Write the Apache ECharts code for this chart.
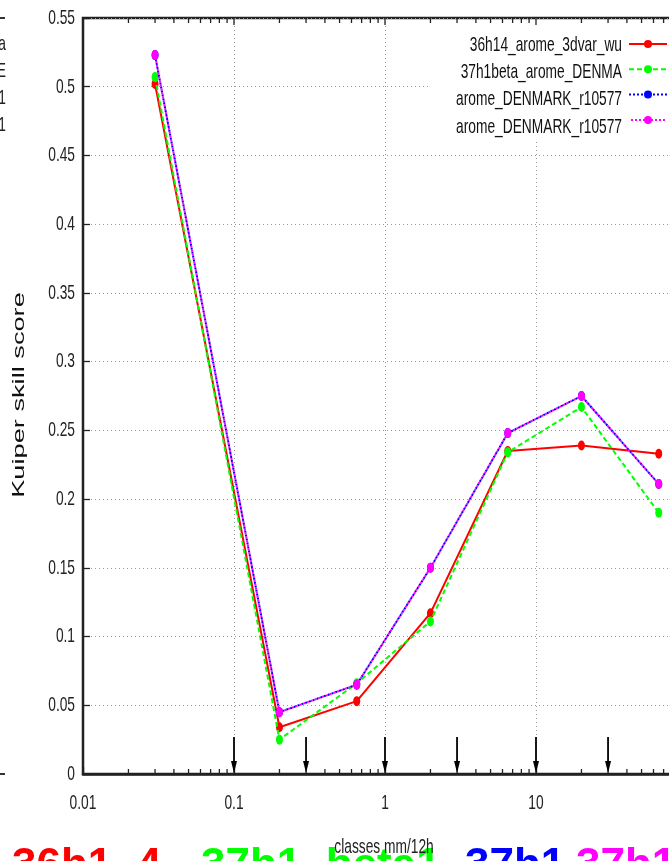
<!DOCTYPE html>
<html><head><meta charset="utf-8">
<script src="https://cdn.jsdelivr.net/npm/echarts@6/dist/echarts.min.js"></script>
<style>html,body{margin:0;padding:0;background:#fff}#c{width:669px;height:861px}</style>
</head><body><div id="c"></div>
<script>
// ---- data ----
const classX = [0.03, 0.2, 0.65, 2, 6.5, 20, 65];
const seriesNames = ['36h14_arome_3dvar_wu', '37h1beta_arome_DENMA', 'arome_DENMARK_r10577', 'arome_DENMARK_r10577\u200b'];
const legendLabels = ['36h14_arome_3dvar_wu', '37h1beta_arome_DENMA', 'arome_DENMARK_r10577', 'arome_DENMARK_r10577'];
const redValues = [0.502, 0.034, 0.053, 0.117, 0.235, 0.239, 0.233];
const greenValues = [0.507, 0.025, 0.066, 0.111, 0.234, 0.267, 0.190];
const blueValues = [0.523, 0.045, 0.065, 0.150, 0.248, 0.275, 0.211];
const magentaValues = [0.523, 0.045, 0.065, 0.150, 0.248, 0.275, 0.211];
const arrowX = [0.1, 0.3, 1, 3, 10, 30];
const xTickValues = [0.01, 0.1, 1, 10, 100];
const xTickLabels = ['0.01', '0.1', '1', '10', '100'];
const yTickValues = [0, 0.05, 0.1, 0.15, 0.2, 0.25, 0.3, 0.35, 0.4, 0.45, 0.5, 0.55];
const yTickLabels = ['0', '0.05', '0.1', '0.15', '0.2', '0.25', '0.3', '0.35', '0.4', '0.45', '0.5', '0.55'];
const minorTicksX = [0.02,0.03,0.04,0.05,0.06,0.07,0.08,0.09,
                     0.2,0.3,0.4,0.5,0.6,0.7,0.8,0.9,
                     2,3,4,5,6,7,8,9,
                     20,30,40,50,60,70,80,90];
const bottomTitles = [
  {text: '36h1_4', color: '#ff0000', x: 12},
  {text: '37h1_beta1', color: '#00ff00', x: 201},
  {text: '37h1', color: '#0000ff', x: 465},
  {text: '37h1', color: '#ff00ff', x: 576}
];
const leftFragments = [{t:'a', y:44}, {t:'E', y:71}, {t:'1', y:98}, {t:'1', y:125}];

const FONT = '21px "Liberation Sans", Arial, sans-serif';
const SQUEEZE = 0.655;
const chart = echarts.init(document.getElementById('c'));

function pair(vals) { return classX.map((x, i) => [x, vals[i]]); }

const colors = ['#ff0000', '#00ff00', '#0000ff', '#ff00ff'];
const dash = ['solid', [5, 3], [2, 2], [2, 2]];
const valueSets = [redValues, greenValues, blueValues, magentaValues];

const lineSeries = valueSets.map((vals, i) => ({
  name: seriesNames[i],
  type: 'line',
  data: pair(vals),
  symbol: 'circle',
  symbolSize: [7, 10],
  itemStyle: {color: colors[i]},
  lineStyle: {color: colors[i], width: 2, type: dash[i], dashOffset: i === 3 ? 2 : 0},
  z: 3 + i
}));

const tickSeries = {
  type: 'custom', silent: true, z: 10, clip: false,
  data: xTickValues.map(v => [v, 1]).concat(minorTicksX.map(v => [v, 0])),
  renderItem: function (params, api) {
    const v = api.value(0), major = api.value(1) === 1;
    const b = api.coord([v, 0]);
    const t = api.coord([v, 0.55]);
    const len = major ? 7 : 5;
    const st = {stroke: '#222', lineWidth: 1.3};
    return {type: 'group', children: [
      {type: 'line', shape: {x1: b[0], y1: b[1], x2: b[0], y2: b[1] - len}, style: st},
      {type: 'line', shape: {x1: t[0], y1: t[1], x2: t[0], y2: t[1] + len}, style: st}
    ]};
  }
};

const xLabelSeries = {
  type: 'custom', silent: true, z: 10, clip: false,
  data: xTickValues.map((v, i) => [v, 0, i]),
  renderItem: function (params, api) {
    const p = api.coord([api.value(0), 0]);
    return {type: 'text', x: p[0], y: p[1] + 29, scaleX: SQUEEZE,
      style: {text: xTickLabels[api.value(2)], font: FONT, fill: '#222', align: 'center', verticalAlign: 'middle'}};
  }
};

const yLabelSeries = {
  type: 'custom', silent: true, z: 10, clip: false,
  data: yTickValues.map((v, i) => [0.01, v, i]),
  renderItem: function (params, api) {
    const p = api.coord([api.value(0), api.value(1)]);
    return {type: 'text', x: p[0] - 8, y: p[1], scaleX: SQUEEZE,
      style: {text: yTickLabels[api.value(2)], font: FONT, fill: '#222', align: 'right', verticalAlign: 'middle'}};
  }
};

const arrowSeries = {
  type: 'custom', silent: true, z: 11, clip: false,
  data: arrowX.map(v => [v, 0]),
  renderItem: function (params, api) {
    const v = api.value(0);
    const b = api.coord([v, 0]);
    const t = api.coord([v, 0.027]);
    return {type: 'group', children: [
      {type: 'line', shape: {x1: b[0], y1: t[1], x2: b[0], y2: b[1] - 5}, style: {stroke: '#000', lineWidth: 1.8}},
      {type: 'polygon', shape: {points: [[b[0] - 3, b[1] - 13], [b[0] + 3, b[1] - 13], [b[0], b[1] - 1]]}, style: {fill: '#000'}}
    ]};
  }
};

const graphics = [
  {type: 'rect', z: 1, shape: {x: 428, y: 21, width: 241, height: 120}, style: {fill: '#fff'}},
  {type: 'text', x: 20, y: 395, rotation: Math.PI / 2, scaleX: 1.7,
   style: {text: 'Kuiper skill score', font: '16px "Liberation Sans", Arial, sans-serif', fill: '#111', align: 'center', verticalAlign: 'middle'}}
];
legendLabels.forEach((t, i) => graphics.push({
  type: 'text', x: 622, y: 45 + i * 27.3, z: 2, scaleX: SQUEEZE,
  style: {text: t, font: FONT, fill: '#111', align: 'right', verticalAlign: 'middle'}
}));
bottomTitles.forEach(b => graphics.push({
  type: 'text', x: b.x, y: 867, z: 1,
  style: {text: b.text, font: 'bold 44px "Liberation Sans", Arial, sans-serif', fill: b.color, align: 'left', verticalAlign: 'middle'}
}));
leftFragments.forEach(f => graphics.push({
  type: 'text', x: 6, y: f.y, scaleX: SQUEEZE,
  style: {text: f.t, font: FONT, fill: '#222', align: 'right', verticalAlign: 'middle'}
}));
graphics.push({type: 'line', shape: {x1: 0, y1: 18, x2: 5, y2: 18}, style: {stroke: '#333', lineWidth: 2}});
graphics.push({type: 'line', shape: {x1: 0, y1: 774, x2: 5, y2: 774}, style: {stroke: '#333', lineWidth: 2}});
graphics.push({
  type: 'text', x: 384, y: 847, z: 5, scaleX: SQUEEZE,
  style: {text: 'classes mm/12h', font: FONT, fill: '#222', align: 'center', verticalAlign: 'middle'}
});

chart.setOption({
  animation: false,
  backgroundColor: '#fff',
  grid: {left: 83, top: 18, right: -18, bottom: 87, outerBoundsMode: 'none', containLabel: false,
         show: true, borderColor: '#222', borderWidth: 2.5, backgroundColor: 'transparent'},
  xAxis: {
    type: 'log', logBase: 10, min: 0.01, max: 100,
    axisLine: {lineStyle: {color: '#222', width: 2.5}},
    axisTick: {inside: true, length: 7, lineStyle: {color: '#222', width: 1.3}},
    minorTick: {show: false},
    axisLabel: {show: false},
    splitLine: {show: true, lineStyle: {color: '#999', width: 1, type: [1, 3]}}
  },
  yAxis: {
    type: 'value', min: 0, max: 0.55, interval: 0.05,
    axisLine: {show: true, lineStyle: {color: '#222', width: 2}},
    axisTick: {show: true, inside: true, length: 7, lineStyle: {color: '#222', width: 1.3}},
    axisLabel: {show: false},
    splitLine: {show: true, lineStyle: {color: '#999', width: 1, type: [1, 3]}}
  },
  legend: {
    orient: 'vertical', align: 'right', right: 1, top: 40, z: 5,
    itemWidth: 38, itemHeight: 10, itemGap: 17.3, padding: 0,
    formatter: function () { return ''; },
    textStyle: {fontSize: 10, lineHeight: 10},
    data: seriesNames
  },
  graphic: graphics,
  series: lineSeries.concat([tickSeries, arrowSeries, xLabelSeries, yLabelSeries])
});
</script></body></html>
